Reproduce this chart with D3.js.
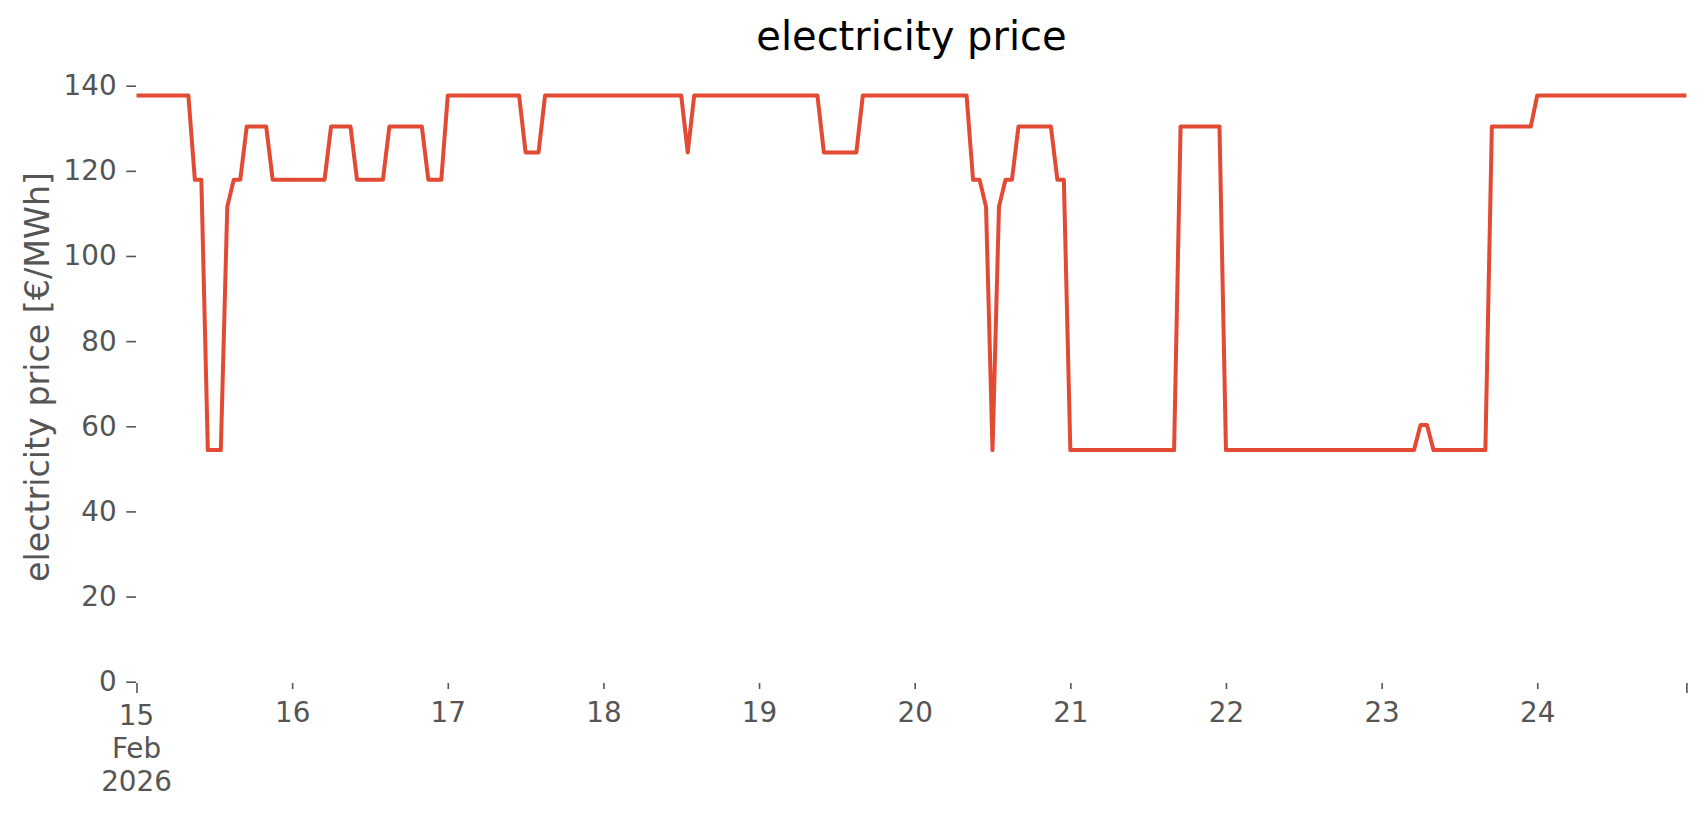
<!DOCTYPE html>
<html>
<head>
<meta charset="utf-8">
<script src="https://cdn.jsdelivr.net/npm/d3@7"></script>
<style>
  body { margin: 0; background: #ffffff; }
  svg { display: block; font-family: "DejaVu Sans", sans-serif; }
</style>
</head>
<body>
<svg id="chart" width="1706" height="815"></svg>
<script>
// ---------------- data ----------------
const chartTitle = "electricity price";
const yLabel = "electricity price [€/MWh]";
const startTime = Date.UTC(2026, 1, 15, 0, 0, 0); // 15 Feb 2026 00:00, hourly samples

// hourly electricity price [€/MWh], one row per day (15 Feb .. 24 Feb)
const pricesFeb15 = [137.7,137.7,137.7,137.7,137.7,137.7,137.7,137.7,137.7,117.9,117.9,54.4,54.4,54.4,111.6,117.9,117.9,130.4,130.4,130.4,130.4,117.9,117.9,117.9];
const pricesFeb16 = [117.9,117.9,117.9,117.9,117.9,117.9,130.4,130.4,130.4,130.4,117.9,117.9,117.9,117.9,117.9,130.4,130.4,130.4,130.4,130.4,130.4,117.9,117.9,117.9];
const pricesFeb17 = [137.7,137.7,137.7,137.7,137.7,137.7,137.7,137.7,137.7,137.7,137.7,137.7,124.3,124.3,124.3,137.7,137.7,137.7,137.7,137.7,137.7,137.7,137.7,137.7];
const pricesFeb18 = [137.7,137.7,137.7,137.7,137.7,137.7,137.7,137.7,137.7,137.7,137.7,137.7,137.7,124.3,137.7,137.7,137.7,137.7,137.7,137.7,137.7,137.7,137.7,137.7];
const pricesFeb19 = [137.7,137.7,137.7,137.7,137.7,137.7,137.7,137.7,137.7,137.7,124.3,124.3,124.3,124.3,124.3,124.3,137.7,137.7,137.7,137.7,137.7,137.7,137.7,137.7];
const pricesFeb20 = [137.7,137.7,137.7,137.7,137.7,137.7,137.7,137.7,137.7,117.9,117.9,111.6,54.4,111.6,117.9,117.9,130.4,130.4,130.4,130.4,130.4,130.4,117.9,117.9];
const pricesFeb21 = [54.4,54.4,54.4,54.4,54.4,54.4,54.4,54.4,54.4,54.4,54.4,54.4,54.4,54.4,54.4,54.4,54.4,130.4,130.4,130.4,130.4,130.4,130.4,130.4];
const pricesFeb22 = [54.4,54.4,54.4,54.4,54.4,54.4,54.4,54.4,54.4,54.4,54.4,54.4,54.4,54.4,54.4,54.4,54.4,54.4,54.4,54.4,54.4,54.4,54.4,54.4];
const pricesFeb23 = [54.4,54.4,54.4,54.4,54.4,54.4,60.3,60.3,54.4,54.4,54.4,54.4,54.4,54.4,54.4,54.4,54.4,130.4,130.4,130.4,130.4,130.4,130.4,130.4];
const pricesFeb24 = [137.7,137.7,137.7,137.7,137.7,137.7,137.7,137.7,137.7,137.7,137.7,137.7,137.7,137.7,137.7,137.7,137.7,137.7,137.7,137.7,137.7,137.7,137.7,137.7];

const yTickValues = [0, 20, 40, 60, 80, 100, 120, 140];
const minorDayLabels = ["16", "17", "18", "19", "20", "21", "22", "23", "24"];
const majorFirstLabel = ["15", "Feb", "2026"];

// ---------------- build series ----------------
const prices = [].concat(pricesFeb15, pricesFeb16, pricesFeb17, pricesFeb18, pricesFeb19,
                         pricesFeb20, pricesFeb21, pricesFeb22, pricesFeb23, pricesFeb24);
const series = prices.map((v, i) => ({ t: new Date(startTime + i * 3600e3), v }));

// ---------------- layout ----------------
const svg = d3.select("#chart");
const left = 136.5, right = 1686.4, y0px = 681.7, y140px = 85.7;
const axisY = 683;
const textGray = "#555555";

const x = d3.scaleUtc()
  .domain([series[0].t, series[series.length - 1].t])
  .range([left, right]);
const y = d3.scaleLinear().domain([0, 140]).range([y0px, y140px]);

svg.append("rect").attr("width", 1706).attr("height", 815).attr("fill", "#ffffff");

// title
svg.append("text")
  .attr("x", (left + right) / 2).attr("y", 50)
  .attr("text-anchor", "middle")
  .attr("font-size", 40).attr("fill", "#000000")
  .text(chartTitle);

// y label
svg.append("text")
  .attr("transform", `translate(48.5,377) rotate(-90)`)
  .attr("text-anchor", "middle")
  .attr("font-size", 33.3).attr("fill", textGray)
  .text(yLabel);

// y axis
const yAxis = svg.append("g")
  .attr("transform", `translate(${left - 0.5},0)`)
  .call(d3.axisLeft(y).tickValues(yTickValues).tickSize(9.7).tickPadding(9.7).tickFormat(d3.format("d")));
yAxis.select(".domain").remove();
yAxis.selectAll(".tick line").attr("stroke", textGray).attr("stroke-width", 1.6);
yAxis.selectAll(".tick text").attr("fill", textGray).attr("font-size", 27.8)
  .attr("font-family", "DejaVu Sans");

// x axis: minor day ticks
const dayDates = minorDayLabels.map((d, i) => d3.utcDay.offset(series[0].t, i + 1));
const xMinor = svg.append("g")
  .attr("transform", `translate(0,${axisY})`)
  .call(d3.axisBottom(x).tickValues(dayDates).tickSize(6).tickPadding(12.8)
    .tickFormat((d, i) => minorDayLabels[i]));
xMinor.select(".domain").remove();
xMinor.selectAll(".tick line").attr("stroke", textGray).attr("stroke-width", 1.6);
xMinor.selectAll(".tick text").attr("fill", textGray).attr("font-size", 27.8)
  .attr("font-family", "DejaVu Sans");

// x axis: major ticks (start, with multi-line label; end, unlabeled)
const majorDates = [series[0].t, series[series.length - 1].t];
const xMajor = svg.append("g")
  .attr("transform", `translate(0,${axisY})`)
  .call(d3.axisBottom(x).tickValues(majorDates).tickSize(10).tickFormat(""));
xMajor.select(".domain").remove();
xMajor.selectAll(".tick line").attr("stroke", textGray).attr("stroke-width", 1.6);
xMajor.selectAll(".tick text").remove();
const firstLabel = svg.append("text")
  .attr("text-anchor", "middle")
  .attr("font-size", 27.8).attr("fill", textGray);
majorFirstLabel.forEach((s, i) => {
  firstLabel.append("tspan")
    .attr("x", x(series[0].t))
    .attr("y", 725 + i * 33)
    .text(s);
});

// line
svg.append("path")
  .datum(series)
  .attr("fill", "none")
  .attr("stroke", "#E24A33")
  .attr("stroke-width", 4)
  .attr("stroke-linejoin", "round")
  .attr("d", d3.line().x(d => x(d.t)).y(d => y(d.v)));
</script>
</body>
</html>
